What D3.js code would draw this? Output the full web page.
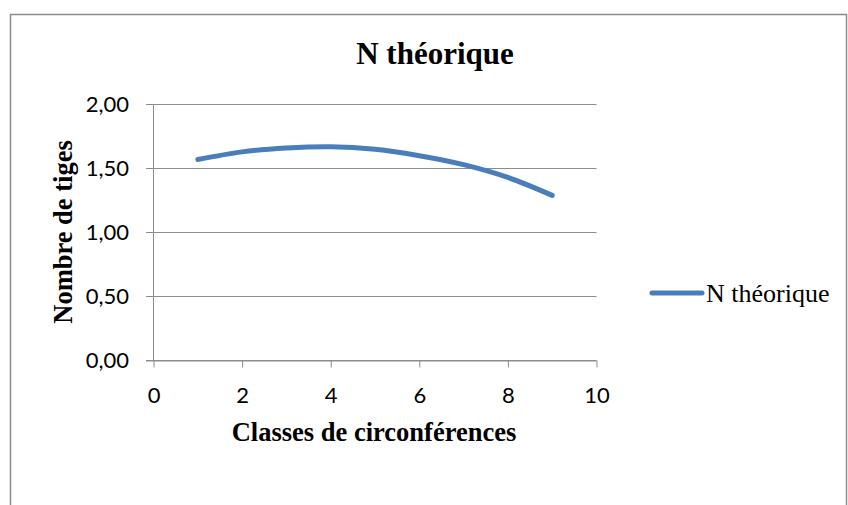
<!DOCTYPE html>
<html>
<head>
<meta charset="utf-8">
<script src="https://cdn.jsdelivr.net/npm/d3@7"></script>
<style>
  body { margin: 0; background: #fff; }
  svg { display: block; }
</style>
</head>
<body>
<svg id="chart" width="848" height="505"></svg>
<script>
// values
const classes = [1, 2, 3, 4, 5, 6, 7, 8, 9];
const nTheorique = [1.57, 1.63, 1.66, 1.67, 1.65, 1.60, 1.53, 1.43, 1.29];
const xTicks = [0, 2, 4, 6, 8, 10];
const yTicks = [0, 0.5, 1, 1.5, 2];
const seriesName = 'N théorique';

const svg = d3.select('#chart');
const serif = '"Liberation Serif", "Times New Roman", serif';
const sans = 'Lato, "Open Sans", sans-serif';

// outer frame
svg.append('rect')
    .attr('x', 10.5).attr('y', 14.5)
    .attr('width', 836).attr('height', 500)
    .attr('fill', 'none')
    .attr('stroke', '#8c8c8c')
    .attr('stroke-width', 1.5);

let x = d3.scaleLinear().domain([0, 10]).range([153.5, 596.5]);
let y = d3.scaleLinear().domain([0, 2]).range([360.5, 104.5]);

// gridlines + y ticks
svg.append('g')
    .selectAll('line')
    .data(yTicks)
    .enter().append('line')
    .attr('x1', 146).attr('x2', x(10))
    .attr('y1', function(d) { return y(d); })
    .attr('y2', function(d) { return y(d); })
    .attr('stroke', '#8c8c8c')
    .attr('stroke-width', 1);

svg.append('g')
    .selectAll('text')
    .data(yTicks)
    .enter().append('text')
    .attr('x', 129)
    .attr('y', function(d) { return y(d); })
    .attr('dy', '0.35em')
    .attr('text-anchor', 'end')
    .attr('font-family', sans)
    .attr('font-size', 22)
    .attr('fill', '#000')
    .text(function(d) { return d3.format('.2f')(d).replace('.', ','); });

// y axis line
svg.append('line')
    .attr('x1', x(0)).attr('x2', x(0))
    .attr('y1', y(2)).attr('y2', y(0))
    .attr('stroke', '#8c8c8c');

// x axis
let xAxis = d3.axisBottom(x)
    .tickValues(xTicks)
    .tickSize(7)
    .tickPadding(20)
    .tickFormat(d3.format('d'));

let gx = svg.append('g')
    .attr('transform', 'translate(0,' + y(0) + ')')
    .call(xAxis);
gx.select('.domain').attr('stroke', '#8c8c8c').attr('d', 'M146,0.5H' + x(10));
gx.selectAll('.tick line').attr('stroke', '#8c8c8c');
gx.selectAll('.tick text')
    .attr('font-family', sans)
    .attr('font-size', 22)
    .attr('fill', '#000');

// series
let line = d3.line()
    .x(function(d, i) { return x(classes[i]); })
    .y(function(d) { return y(d); })
    .curve(d3.curveCatmullRom.alpha(0.5));

svg.append('path')
    .attr('d', line(nTheorique))
    .attr('fill', 'none')
    .attr('stroke', '#4a7ebb')
    .attr('stroke-width', 5)
    .attr('stroke-linecap', 'round');

// titles
svg.append('text')
    .attr('x', 435).attr('y', 64)
    .attr('text-anchor', 'middle')
    .attr('font-family', serif)
    .attr('font-weight', 'bold')
    .attr('font-size', 31)
    .text('N théorique');

svg.append('text')
    .attr('transform', 'translate(72,232) rotate(-90)')
    .attr('text-anchor', 'middle')
    .attr('font-family', serif)
    .attr('font-weight', 'bold')
    .attr('font-size', 26.5)
    .text('Nombre de tiges');

svg.append('text')
    .attr('x', 374).attr('y', 441)
    .attr('text-anchor', 'middle')
    .attr('font-family', serif)
    .attr('font-weight', 'bold')
    .attr('font-size', 26.5)
    .text('Classes de circonférences');

// legend
let legend = svg.append('g').attr('transform', 'translate(652,293)');
legend.append('line')
    .attr('x1', 0).attr('x2', 50)
    .attr('stroke', '#4a7ebb')
    .attr('stroke-width', 5)
    .attr('stroke-linecap', 'round');
legend.append('text')
    .attr('x', 54).attr('y', 9)
    .attr('font-family', serif)
    .attr('font-size', 26)
    .text(seriesName);
</script>
</body>
</html>
